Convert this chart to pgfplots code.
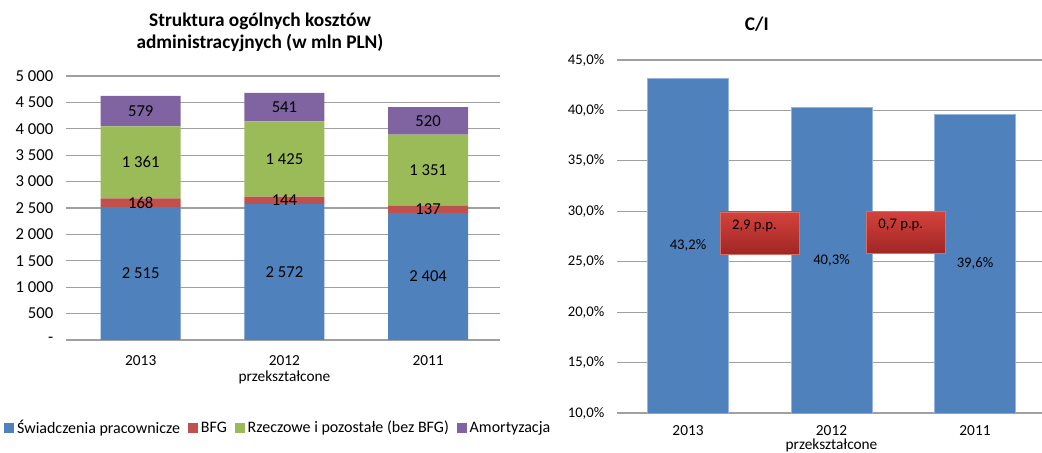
\documentclass[border=0pt]{standalone}
\usepackage{fontspec}
\setmainfont{Carlito}
\usepackage{pgfplots}
\pgfplotsset{compat=1.18}
\definecolor{cblue}{RGB}{79,129,189}
\definecolor{cred}{RGB}{192,80,77}
\definecolor{cgreen}{RGB}{155,187,89}
\definecolor{cpurple}{RGB}{128,100,162}
\definecolor{cgrid}{RGB}{160,160,160}
\definecolor{boxtop}{RGB}{212,66,60}
\definecolor{boxbot}{RGB}{160,38,38}
\tikzset{lbl/.style={font=\fontsize{12.5}{14}\selectfont, inner sep=0pt},
  lbr/.style={font=\fontsize{11}{13}\selectfont, inner sep=0pt},
  rbox/.style={minimum width=59pt, minimum height=31.5pt, top color=boxtop, bottom color=boxbot,
  draw={rgb,255:red,215;green,110;blue,100}, line width=0.6pt, inner sep=0pt}}
\begin{document}
\begin{tikzpicture}
\useasboundingbox (0,0) rectangle (781.5pt,339.75pt);
% ---------------- left chart ----------------
\begin{axis}[
  at={(49.5pt,84.75pt)}, anchor=south west,
  width=325.5pt, height=198pt, scale only axis,
  ybar stacked, bar width=60pt,
  xmin=-0.52, xmax=2.5, ymin=0, ymax=5000,
  xtick={0,1,2},
  xticklabels={2013,{2012\\przekształcone},2011},
  xticklabel style={align=center, font=\fontsize{11.5}{12}\selectfont, yshift=-8pt},
  ytick={0,500,...,5000},
  yticklabels={-,500,1 000,1 500,2 000,2 500,3 000,3 500,4 000,4 500,5 000},
  yticklabel style={font=\fontsize{12.5}{14}\selectfont, xshift=-6pt},
  /pgf/number format/assume math mode=true,
  axis lines*=left,
  y axis line style={draw=none},
  x axis line style={cgrid, line width=0.8pt},
  tick style={draw=none},
  ymajorgrids, grid style={cgrid, line width=0.8pt},
  title={Struktura ogólnych kosztów\\administracyjnych (w mln PLN)},
  title style={align=center, at={(0.447,1)}, anchor=south, yshift=12pt,
    font=\fontsize{14.5}{16.5}\selectfont\bfseries, inner sep=0pt},
  legend style={at={(-0.152,-0.333)}, anchor=west, draw=none, fill=none,
    legend columns=4, font=\fontsize{12}{14}\selectfont,
    /tikz/every even column/.append style={column sep=4pt}},
  legend image code/.code={\fill[#1] (0pt,-3.8pt) rectangle (7.6pt,3.8pt);},
]
\addplot[fill=cblue, draw=none] coordinates {(0,2515) (1,2572) (2,2404)};
\addplot[fill=cred, draw=none] coordinates {(0,168) (1,144) (2,137)};
\addplot[fill=cgreen, draw=none] coordinates {(0,1361) (1,1425) (2,1351)};
\addplot[fill=cpurple, draw=none] coordinates {(0,579) (1,541) (2,520)};
\legend{Świadczenia pracownicze,BFG,Rzeczowe i pozostałe (bez BFG),Amortyzacja}
\coordinate (a1) at (axis cs:0,1257.5);
\coordinate (a2) at (axis cs:1,1286);
\coordinate (a3) at (axis cs:2,1202);
\coordinate (b1) at (axis cs:0,2599);
\coordinate (b2) at (axis cs:1,2644);
\coordinate (b3) at (axis cs:2,2472.5);
\coordinate (c1) at (axis cs:0,3363.5);
\coordinate (c2) at (axis cs:1,3428.5);
\coordinate (c3) at (axis cs:2,3216.5);
\coordinate (d1) at (axis cs:0,4333.5);
\coordinate (d2) at (axis cs:1,4411.5);
\coordinate (d3) at (axis cs:2,4152);
\end{axis}
\node[lbl] at (a1) {2 515};
\node[lbl] at (a2) {2 572};
\node[lbl] at (a3) {2 404};
\node[lbl] at (b1) {168};
\node[lbl] at (b2) {144};
\node[lbl] at (b3) {137};
\node[lbl] at (c1) {1 361};
\node[lbl] at (c2) {1 425};
\node[lbl] at (c3) {1 351};
\node[lbl] at (d1) {579};
\node[lbl] at (d2) {541};
\node[lbl] at (d3) {520};
% ---------------- right chart ----------------
\begin{axis}[
  at={(462.75pt,30pt)}, anchor=south west,
  width=318.75pt, height=264.75pt, scale only axis,
  ybar, bar width=60.75pt, bar shift=0pt,
  xmin=-0.495, xmax=2.467, ymin=10, ymax=45,
  xtick={0,1,2},
  xticklabels={2013,{2012\\przekształcone},2011},
  xticklabel style={align=center, font=\fontsize{11.5}{10.5}\selectfont, yshift=-1.5pt},
  ytick={10,15,...,45},
  yticklabels={{10,0\%},{15,0\%},{20,0\%},{25,0\%},{30,0\%},{35,0\%},{40,0\%},{45,0\%}},
  yticklabel style={font=\fontsize{11}{13}\selectfont, xshift=-6pt},
  /pgf/number format/assume math mode=true,
  axis lines*=left,
  y axis line style={draw=none},
  x axis line style={cgrid, line width=0.8pt},
  tick style={draw=none},
  ymajorgrids, grid style={cgrid, line width=0.8pt},
  title={C/I},
  title style={at={(0.329,1)}, anchor=south, yshift=15pt,
    font=\fontsize{14.5}{16}\selectfont\bfseries, inner sep=0pt},
]
\addplot[fill=cblue, draw={rgb,255:red,150;green,180;blue,220}, line width=0.6pt]
  coordinates {(0,43.2) (1,40.3) (2,39.6)};
\node[lbr] at (axis cs:0,26.6) {43,2\%};
\node[lbr] at (axis cs:1,25.15) {40,3\%};
\node[lbr] at (axis cs:2,24.8) {39,6\%};
\node[rbox] (r1) at (axis cs:0.5,27.85) {};
\node[rbox] (r2) at (axis cs:1.52,27.9) {};
\node[lbr, xshift=-4pt, yshift=5pt] at (r1.center) {2,9 p.p.};
\node[lbr, xshift=-4pt, yshift=6pt] at (r2.center) {0,7 p.p.};
\end{axis}
\end{tikzpicture}
\end{document}
